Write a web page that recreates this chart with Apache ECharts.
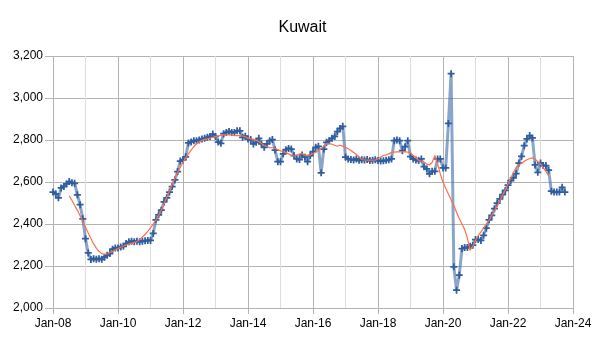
<!DOCTYPE html>
<html>
<head>
<meta charset="utf-8">
<script src="https://cdn.jsdelivr.net/npm/echarts@6/dist/echarts.min.js"></script>
<style>html,body{margin:0;padding:0;background:#fff;}#c{width:605px;height:340px;}</style>
</head>
<body>
<div id="c"></div>
<script>
// Monthly production, Jan-08 .. Oct-23
const production = [
  2552,2544,2525,2572,2579,2591,2602,2596,2594,2539,2492,2425,
  2330,2262,2231,2235,2232,2235,2232,2242,2251,2259,2280,2286,
  2286,2291,2294,2307,2315,2318,2316,2318,2316,2318,2320,2322,
  2322,2355,2420,2444,2466,2505,2525,2552,2578,2610,2650,2700,
  2705,2720,2786,2791,2797,2797,2800,2805,2808,2813,2817,2828,
  2817,2790,2784,2830,2836,2841,2836,2836,2844,2844,2813,2818,
  2805,2802,2781,2789,2808,2781,2765,2781,2797,2802,2752,2697,
  2697,2734,2754,2760,2757,2726,2710,2707,2729,2718,2697,2726,
  2745,2765,2770,2644,2757,2789,2797,2808,2817,2840,2855,2865,
  2718,2710,2707,2705,2710,2703,2706,2705,2707,2702,2704,2706,
  2702,2700,2701,2703,2706,2710,2797,2800,2797,2749,2768,2797,
  2721,2710,2705,2702,2710,2673,2662,2639,2651,2651,2710,2710,
  2667,2667,2879,3116,2196,2085,2156,2283,2288,2288,2294,2299,
  2326,2326,2322,2346,2380,2420,2441,2473,2499,2520,2540,2560,
  2585,2607,2620,2640,2690,2722,2773,2805,2821,2810,2681,2646,
  2691,2678,2678,2657,2556,2552,2552,2552,2575,2552
];
// Trend line (centred 12-month average as drawn), Jan-08 .. Apr-23
const trend = [
  null,null,null,null,null,null,2534,2512,2488,2465,2439,2413,
  2385,2357,2331,2305,2285,2269,2259,2256,2258,2264,2270,2277,
  2283,2289,2295,2300,2305,2308,2311,2316,2326,2338,2350,2365,
  2381,2399,2419,2441,2467,2496,2526,2556,2589,2618,2645,2670,
  2693,2715,2734,2752,2768,2782,2791,2798,2803,2806,2809,2813,
  2816,2819,2822,2824,2824,2824,2823,2821,2821,2821,2819,2815,
  2809,2805,2802,2799,2792,2783,2774,2768,2764,2763,2760,2754,
  2749,2744,2740,2734,2726,2724,2728,2733,2736,2727,2727,2729,
  2735,2742,2751,2759,2770,2783,2782,2780,2775,2770,2775,2771,
  2765,2758,2750,2741,2731,2719,2707,2705,2704,2704,2704,2704,
  2711,2719,2726,2729,2734,2741,2742,2743,2743,2743,2744,2742,
  2738,2726,2714,2703,2700,2695,2685,2681,2694,2726,2687,2639,
  2599,2570,2543,2515,2488,2456,2426,2400,2374,2333,2276,2293,
  2321,2345,2362,2380,2399,2419,2441,2463,2486,2510,2537,2563,
  2590,2618,2645,2669,2681,2689,2699,2706,2712,2715,2708,2698,
  2685,2668,2650,2629
];
const monthNames = ['Jan','Feb','Mar','Apr','May','Jun','Jul','Aug','Sep','Oct','Nov','Dec'];
const firstYear = 2008, lastYear = 2024;
const categories = [];
for (let y = firstYear; y <= lastYear; y++) {
  for (let m = 0; m < 12; m++) {
    categories.push(monthNames[m] + '-' + String(y % 100).padStart(2, '0'));
    if (y === lastYear) break;
  }
}
const yTicks = [2000, 2200, 2400, 2600, 2800, 3000, 3200];

const chart = echarts.init(document.getElementById('c'), null, {renderer: 'canvas'});
const font = 'Liberation Sans, Arial, sans-serif';
chart.setOption({
  animation: false,
  backgroundColor: '#ffffff',
  title: {
    text: 'Kuwait', left: 'center', top: 15,
    textStyle: {fontFamily: font, fontSize: 16, fontWeight: 'normal', color: '#000'}
  },
  grid: {left: 53, right: 32, top: 56, bottom: 32, containLabel: false},
  xAxis: {
    type: 'category', data: categories, boundaryGap: false,
    axisLine: {show: true, lineStyle: {color: '#b3b3b3', width: 1}},
    axisTick: {show: true, interval: 23, length: 6, lineStyle: {color: '#b3b3b3'}},
    axisLabel: {interval: 23, margin: 10, fontFamily: font, fontSize: 12, color: '#000'},
    splitLine: {show: true, interval: 11, lineStyle: {color: ['#b3b3b3', '#dedede'], width: 1}}
  },
  yAxis: {
    type: 'value', min: yTicks[0], max: yTicks[yTicks.length - 1], interval: 200,
    axisLine: {show: false},
    axisTick: {show: true, length: 8, lineStyle: {color: '#b3b3b3'}},
    axisLabel: {margin: 10, fontFamily: font, fontSize: 12, color: '#000',
      formatter: v => v.toLocaleString('en-US')},
    splitLine: {show: true, lineStyle: {color: '#b3b3b3', width: 1}}
  },
  series: [
    {
      name: 'Production', type: 'line', data: production,
      showSymbol: true, showAllSymbol: true,
      symbol: 'path://M3,0H5V3H8V5H5V8H3V5H0V3H3Z', symbolSize: 7,
      itemStyle: {color: '#2f5d9f'},
      lineStyle: {color: 'rgba(60,105,170,0.6)', width: 3},
      z: 2
    },
    {
      name: 'Trend', type: 'line', data: trend, showSymbol: false,
      lineStyle: {color: '#ff6f47', width: 1.2}, z: 3, connectNulls: false
    }
  ]
});
</script>
</body>
</html>
